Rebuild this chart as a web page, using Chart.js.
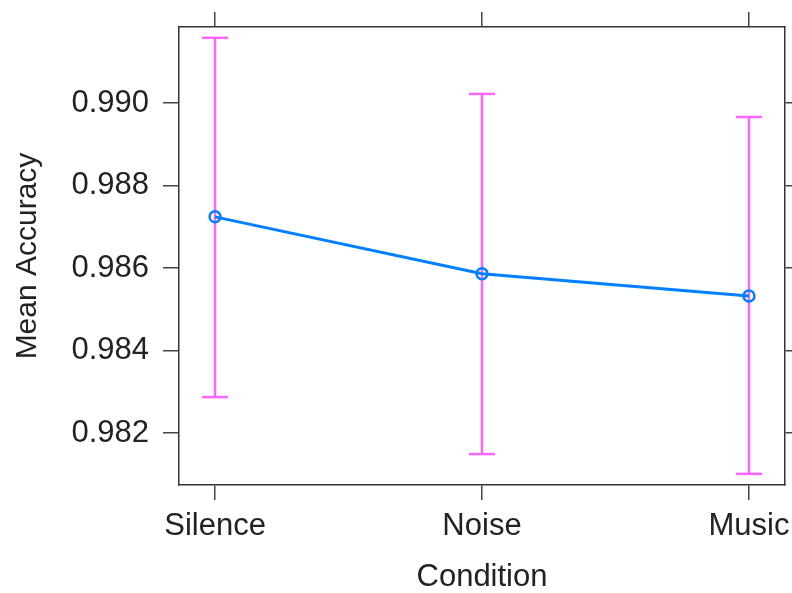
<!DOCTYPE html>
<html>
<head>
<meta charset="utf-8">
<script src="https://cdn.jsdelivr.net/npm/chart.js@4/dist/chart.umd.min.js"></script>
<style>
  html, body { margin: 0; padding: 0; background: #fff; }
  canvas { display: block; }
</style>
</head>
<body>
<canvas id="chart" width="792" height="593"></canvas>
<script>
"use strict"

// data
const categories = ["Silence", "Noise", "Music"]
const meanAcc = [0.98724, 0.98586, 0.98532]
const upperCI = [0.99158, 0.99022, 0.98966]
const lowerCI = [0.98287, 0.98149, 0.98101]
const yTicks = [0.982, 0.984, 0.986, 0.988, 0.990]

const font = "'Liberation Sans', Arial, Helvetica, sans-serif"
const textColor = "#222"
const tickColor = "#444"

// one small dataset per error bar, caps drawn as 'line' points
let errorSets = []
for (let i = 0; i < categories.length; i++) {
    errorSets.push({
        data: [{x: i, y: lowerCI[i]}, {x: i, y: upperCI[i]}],
        borderColor: "#ff66ff",
        borderWidth: 2.5,
        pointStyle: "line",
        pointRadius: 13,
        pointBorderWidth: 2.5,
        pointBorderColor: "#ff66ff",
        order: 2
    })
}

const lineSet = {
    data: meanAcc.map((v, i) => ({x: i, y: v})),
    borderColor: "#0080ff",
    borderWidth: 3,
    pointStyle: "circle",
    pointRadius: 5.5,
    pointBorderWidth: 2.5,
    pointBorderColor: "#0080ff",
    pointBackgroundColor: "rgba(0,0,0,0)",
    order: 0
}

const xMin = -0.135, xMax = 2.135
const yMin = 0.98074, yMax = 0.991842

function catTicks(scale) { scale.ticks = categories.map((c, i) => ({value: i})) }

// fixed box size, and no extra margin for labels hanging past the ends
function fixBox(w, h) {
    return s => {
        if (w !== null) s.width = w
        if (h !== null) s.height = h
        s.paddingLeft = 0; s.paddingRight = 0; s.paddingTop = 0; s.paddingBottom = 0
    }
}

let newChart = new Chart(document.getElementById("chart"), {
    type: "line",
    data: {datasets: [lineSet].concat(errorSets)},
    options: {
        responsive: false,
        animation: false,
        clip: false,
        layout: {padding: 0, autoPadding: false},
        plugins: {legend: {display: false}, tooltip: {enabled: false}},
        scales: {
            x: {
                type: "linear", position: "bottom", min: xMin, max: xMax,
                afterBuildTicks: catTicks,
                afterFit: fixBox(null, 108),
                border: {display: true, color: "#333", width: 1.5},
                grid: {drawOnChartArea: false, color: tickColor, lineWidth: 1.5, tickLength: 15},
                ticks: {color: textColor, font: {family: font, size: 31}, padding: 8,
                        maxRotation: 0, autoSkip: false, callback: v => categories[v]},
                title: {display: true, text: "Condition", color: textColor,
                        font: {family: font, size: 31, lineHeight: 1}, padding: {top: 1, bottom: 0}}
            },
            x2: {
                type: "linear", position: "top", min: xMin, max: xMax,
                afterBuildTicks: catTicks,
                afterFit: fixBox(null, 27),
                border: {display: true, color: "#333", width: 1.5},
                grid: {drawOnChartArea: false, color: tickColor, lineWidth: 1.5, tickLength: 15},
                ticks: {display: false}
            },
            y: {
                type: "linear", position: "left", min: yMin, max: yMax,
                afterBuildTicks: s => { s.ticks = yTicks.map(v => ({value: v})) },
                afterFit: fixBox(179, null),
                border: {display: true, color: "#333", width: 1.5},
                grid: {drawOnChartArea: false, color: tickColor, lineWidth: 1.5, tickLength: 16},
                ticks: {color: textColor, font: {family: font, size: 31}, padding: 14,
                        callback: v => v.toFixed(3)},
                title: {display: true, text: "Mean Accuracy", color: textColor,
                        font: {family: font, size: 30, lineHeight: 1}, padding: {top: 13, bottom: 0}}
            },
            y2: {
                type: "linear", position: "right", min: yMin, max: yMax,
                afterBuildTicks: s => { s.ticks = yTicks.map(v => ({value: v})) },
                afterFit: fixBox(7, null),
                border: {display: true, color: "#333", width: 1.5},
                grid: {drawOnChartArea: false, color: tickColor, lineWidth: 1.5, tickLength: 7},
                ticks: {display: false}
            }
        }
    }
})
console.log("New Chart created", newChart)
</script>
</body>
</html>
